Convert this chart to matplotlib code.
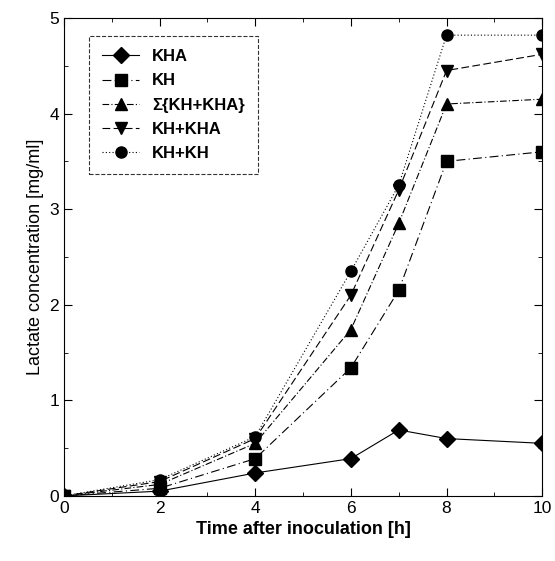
import matplotlib
matplotlib.use("Agg")
import matplotlib.pyplot as plt
from matplotlib.ticker import MultipleLocator

plt.rcParams['font.family'] = ['Liberation Sans', 'DejaVu Sans']

# Data
time_h = [0, 2, 4, 6, 7, 8, 10]
kha = [0.0, 0.05, 0.24, 0.39, 0.69, 0.60, 0.55]
kh = [0.0, 0.08, 0.39, 1.34, 2.15, 3.50, 3.60]
sum_kh_kha = [0.0, 0.12, 0.55, 1.74, 2.85, 4.10, 4.15]
kh_plus_kha = [0.0, 0.15, 0.60, 2.10, 3.20, 4.45, 4.62]
kh_plus_kh = [0.0, 0.17, 0.62, 2.35, 3.25, 4.82, 4.82]

series = [
    (kha, "KHA", "D", "-"),
    (kh, "KH", "s", (0, (8, 3, 1, 3))),
    (sum_kh_kha, "\u03a3{KH+KHA}", "^", (0, (6, 2, 1, 2))),
    (kh_plus_kha, "KH+KHA", "v", (0, (7, 3))),
    (kh_plus_kh, "KH+KH", "o", (0, (1, 2))),
]

fig = plt.figure(figsize=(5.55, 5.61), dpi=100)
ax = fig.add_axes([0.115, 0.116, 0.862, 0.852])

for vals, label, marker, ls in series:
    ax.plot(time_h, vals, color="black", linestyle=ls, linewidth=0.8,
            marker=marker, markersize=8, label=label)

ax.set_xlim(0, 10)
ax.set_ylim(0, 5)
ax.xaxis.set_major_locator(MultipleLocator(2))
ax.xaxis.set_minor_locator(MultipleLocator(1))
ax.yaxis.set_major_locator(MultipleLocator(1))
ax.yaxis.set_minor_locator(MultipleLocator(0.5))
ax.tick_params(which="both", direction="in", top=True, right=True, labelsize=12.5)
ax.tick_params(which="major", length=6)
ax.tick_params(which="minor", length=3)

ax.set_xlabel("Time after inoculation [h]", fontsize=13, fontweight="bold")
ax.set_ylabel("Lactate concentration [mg/ml]", fontsize=13)

leg = ax.legend(loc="upper left", bbox_to_anchor=(0.035, 0.98),
                prop={"size": 12, "weight": "bold"},
                fancybox=False, edgecolor="black", handlelength=2.2,
                borderpad=0.8, labelspacing=0.55)
leg.get_frame().set_linewidth(0.8)
leg.get_frame().set_linestyle("--")

fig.savefig("out.png", dpi=100)
